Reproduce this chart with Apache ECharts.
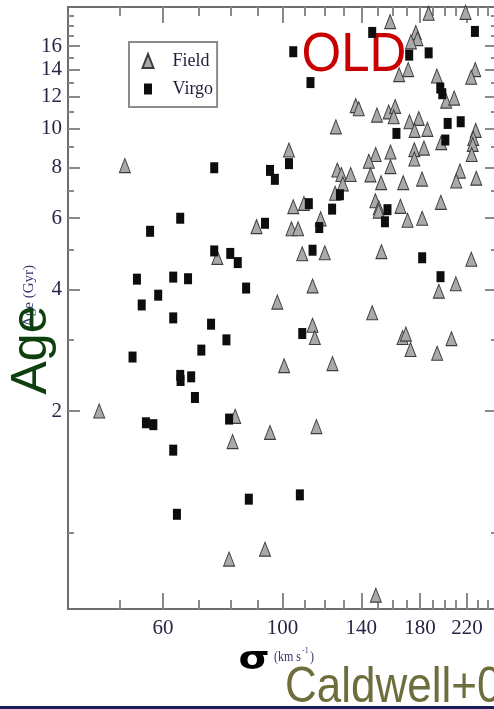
<!DOCTYPE html>
<html>
<head>
<meta charset="utf-8">
<script src="https://cdn.jsdelivr.net/npm/echarts@6/dist/echarts.min.js"></script>
<style>
  html, body { margin: 0; padding: 0; background: #fff; overflow: hidden; }
  #chart { width: 500px; height: 709px; }
</style>
</head>
<body>
<div id="chart"></div>
<script>
// velocity dispersion (km/s) and age (Gyr)
var fieldSigma = [51, 45.7, 75.7, 81.7, 80.8, 79.6, 92.8, 149, 108.8, 119.8, 152.6, 224, 113.7, 209.7, 195, 97.8,
  146.7, 113.7, 114.8, 167, 169.4, 172.8, 205.8, 193.6, 100.7, 123.8, 94.8, 115.6, 158.4, 186.7, 218.6, 176.7,
  178, 173.1, 171.1, 164.6, 193.4, 227.8, 223.9, 201.2, 208.2, 136.7, 138.5, 149.7, 157.4, 161.8, 160.8, 125.6,
  172, 179, 175.8, 185.7, 228.3, 225.9, 225.4, 197, 102.8, 158.6, 148.9, 175.6, 183, 175.6, 224.4, 144.6,
  145.6, 158.6, 126.4, 128.6, 133.8, 129.4, 152.4, 167.5, 181.5, 213.4, 210, 228.8, 125.2, 104.7, 109.6, 148.7,
  150.9, 150.8, 165.5, 170.6, 181.6, 196.7, 117.7, 89.5, 103.9, 106.9];
var fieldAge = [8.1, 2.0, 4.8, 1.94, 1.68, 0.86, 0.91, 0.70, 4.9, 4.93, 4.96, 4.75, 4.08, 4.13, 3.96, 3.72,
  3.5, 3.26, 3.04, 3.04, 3.1, 2.84, 3.02, 2.78, 2.59, 2.62, 1.77, 1.83, 18.4, 19.3, 19.4, 17.3,
  16.7, 16.4, 14.0, 13.6, 13.5, 14.0, 13.4, 11.7, 11.9, 11.4, 11.2, 10.8, 11.0, 11.35, 10.7, 10.1,
  10.4, 10.6, 9.9, 9.96, 9.9, 9.46, 9.14, 9.23, 8.85, 8.75, 8.63, 8.87, 8.95, 8.41, 8.63, 8.3,
  7.68, 8.05, 7.9, 7.7, 7.7, 7.3, 7.35, 7.35, 7.5, 7.85, 7.42, 7.54, 6.92, 6.41, 6.53, 6.63,
  6.37, 6.25, 6.42, 5.93, 6.0, 6.57, 5.98, 5.72, 5.65, 5.65];

var virgoSigma = [74.7, 64.6, 56.8, 74.7, 80, 82.6, 53.7, 62.7, 66.8, 85.6, 58.8, 54.8, 62.7, 73.7, 78.7, 70.7,
  52.7, 64.6, 64.7, 67.7, 68.8, 55.8, 57.6, 79.6, 62.7, 63.7, 86.6, 107.7, 113.7, 181.6, 196.4, 108.8,
  146.7, 227.5, 104.7, 171.8, 186.7, 112.7, 196.2, 197.9, 202.5, 214.1, 162.7, 200.5, 102.8, 94.8, 96.8, 127.8,
  111.9, 123.6, 156.6, 154.9, 117, 92.8];
var virgoAge = [8.0, 6.0, 5.57, 4.98, 4.91, 4.66, 4.24, 4.29, 4.25, 4.03, 3.87, 3.66, 3.4, 3.28, 3.0, 2.83,
  2.72, 2.45, 2.38, 2.43, 2.16, 1.87, 1.85, 1.91, 1.6, 1.11, 1.21, 1.24, 5.0, 4.79, 4.3, 3.11,
  17.3, 17.4, 15.5, 15.2, 15.4, 13.0, 12.6, 12.2, 10.3, 10.4, 9.73, 9.37, 8.19, 7.88, 7.49, 6.86,
  6.52, 6.32, 6.3, 5.88, 5.69, 5.83];

var sigmaTicks = [60, 100, 140, 180, 220];
var sigmaMinorTicks = [50, 70, 80, 90, 110, 120, 130, 150, 160, 170, 190, 200, 210, 230, 240];
var ageTicks = [2, 4, 6, 8, 10, 12, 14, 16];
var ageMinorTicks = [1, 3, 5, 7, 9, 11, 13, 15, 17, 18, 19];

function zip(xs, ys) {
  var out = [];
  for (var i = 0; i < xs.length; i++) {
    out.push([xs[i], ys[i]]);
  }
  return out;
}

var axisColor = '#6e6e6e';
var tickColor = '#8a8a8a';
var labelFont = { color: '#2b2545', fontFamily: 'Liberation Serif', fontSize: 21 };

function sigmaAxis(position, values, length, withLine, withLabels) {
  return {
    type: 'log', logBase: 10, min: 40, max: 250, position: position,
    axisLine: { show: withLine, onZero: false, lineStyle: { color: axisColor, width: 2 } },
    axisTick: { show: true, inside: true, length: length, customValues: values,
      lineStyle: { color: tickColor, width: 2 } },
    axisLabel: Object.assign({ show: withLabels, customValues: values, margin: 9 }, labelFont),
    splitLine: { show: false }
  };
}

function ageAxis(position, values, length, withLine, withLabels) {
  return {
    type: 'log', logBase: 10, min: 0.647, max: 20, position: position,
    axisLine: { show: withLine, onZero: false, lineStyle: { color: axisColor, width: 2 } },
    axisTick: { show: true, inside: true, length: length, customValues: values,
      lineStyle: { color: tickColor, width: 2 } },
    axisLabel: Object.assign({ show: withLabels, customValues: values, margin: 6 }, labelFont),
    splitLine: { show: false }
  };
}

var chart = echarts.init(document.getElementById('chart'));

chart.setOption({
  animation: false,
  backgroundColor: '#fff',
  grid: { left: 68, top: 7, width: 429, height: 602 },
  xAxis: [
    sigmaAxis('bottom', sigmaTicks, 16, true, true),
    sigmaAxis('bottom', sigmaMinorTicks, 9, false, false),
    sigmaAxis('top', sigmaTicks, 16, true, false),
    sigmaAxis('top', sigmaMinorTicks, 9, false, false)
  ],
  yAxis: [
    ageAxis('left', ageTicks, 12, true, true),
    ageAxis('left', ageMinorTicks, 6, false, false),
    ageAxis('right', ageTicks, 12, true, false),
    ageAxis('right', ageMinorTicks, 6, false, false)
  ],
  legend: {
    left: 129, top: 42, orient: 'vertical',
    padding: [10, 4, 9, 12],
    itemWidth: 11, itemHeight: 14, itemGap: 10,
    borderColor: '#8c8c8c', borderWidth: 2,
    textStyle: { fontFamily: 'Liberation Serif', fontSize: 18, color: '#1e1e3c', padding: [0, 0, 0, 14] },
    data: [
      { name: 'Field' },
      { name: 'Virgo', itemStyle: { borderColor: '#fff', borderWidth: 3 } }
    ]
  },
  series: [
    {
      name: 'Field', type: 'scatter', symbol: 'triangle', symbolSize: [11, 14],
      itemStyle: { color: '#a9a9a9', borderColor: '#3c3c3c', borderWidth: 1, opacity: 1 },
      data: zip(fieldSigma, fieldAge)
    },
    {
      name: 'Virgo', type: 'scatter', symbol: 'rect', symbolSize: [8, 11],
      itemStyle: { color: '#0d0d0d', opacity: 1 },
      data: zip(virgoSigma, virgoAge)
    }
  ],
  graphic: [
    { type: 'text', x: 354, y: 56, scaleY: 1.1,
      style: { text: 'OLD', fill: '#c80000', font: '51px "Liberation Sans"', align: 'center', verticalAlign: 'middle' } },
    { type: 'text', x: 29, y: 296, rotation: Math.PI / 2,
      style: { text: 'Age (Gyr)', fill: '#3b3470', font: '15px "Liberation Serif"', align: 'center', verticalAlign: 'middle' } },
    { type: 'text', x: 32, y: 350, rotation: Math.PI / 2,
      style: { text: 'Age', fill: '#0d400d', font: '50px "Liberation Sans"', align: 'center', verticalAlign: 'middle' } },
    { type: 'text', x: 254, y: 661, scaleY: 0.8,
      style: { text: 'σ', fill: '#000', font: 'bold 40px "DejaVu Sans"', align: 'center', verticalAlign: 'middle' } },
    { type: 'text', x: 274, y: 657, scaleY: 1.2,
      style: { text: '(km s', fill: '#3b3470', font: '12px "Liberation Serif"', verticalAlign: 'middle' } },
    { type: 'text', x: 302, y: 651,
      style: { text: '-1', fill: '#3b3470', font: '8px "Liberation Serif"', verticalAlign: 'middle' } },
    { type: 'text', x: 310, y: 657, scaleY: 1.2,
      style: { text: ')', fill: '#3b3470', font: '12px "Liberation Serif"', verticalAlign: 'middle' } },
    { type: 'text', x: 285, y: 688, scaleY: 1.15,
      style: { text: 'Caldwell+03', fill: '#6e6e3c', font: '44px "Liberation Sans"', verticalAlign: 'middle' } },
    { type: 'rect', shape: { x: 0, y: 706, width: 500, height: 3 }, style: { fill: '#1c1c5a' } }
  ]
});
</script>
</body>
</html>
